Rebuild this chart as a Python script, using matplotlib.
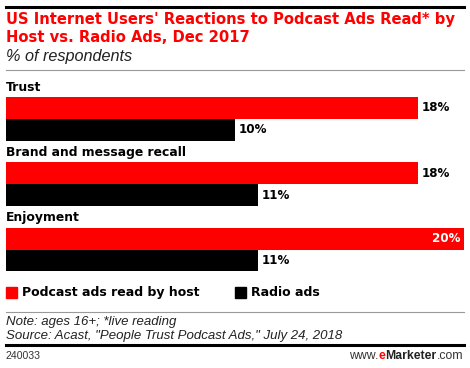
import matplotlib.pyplot as plt
from matplotlib.patches import Rectangle
from matplotlib.lines import Line2D

plt.rcParams['font.family'] = ['Liberation Sans', 'DejaVu Sans']
BOLD = ['DejaVu Sans']

categories = ['Trust', 'Brand and message recall', 'Enjoyment']
podcast = [18, 18, 20]
radio = [10, 11, 11]
series_names = ['Podcast ads read by host', 'Radio ads']
colors = ['#ff0000', '#000000']

W, H = 470, 368
fig = plt.figure(figsize=(W / 100, H / 100), dpi=100)


def fy(py):
    return 1 - py / H


def fx(px):
    return px / W


# header / footer rules
fig.add_artist(Line2D([fx(6), fx(464)], [fy(6.5), fy(6.5)], color='black', lw=2.2))
fig.add_artist(Line2D([fx(6), fx(464)], [fy(70), fy(70)], color='#999999', lw=0.8))
fig.add_artist(Line2D([fx(6), fx(464)], [fy(312), fy(312)], color='#999999', lw=0.8))
fig.add_artist(Line2D([fx(6), fx(464)], [fy(344.5), fy(344.5)], color='black', lw=2.2))

fig.text(fx(6), fy(19.5), "US Internet Users' Reactions to Podcast Ads Read* by",
         color='#ff0000', fontsize=10.6, fontweight='bold', family=BOLD, va='center')
fig.text(fx(6), fy(37.5), "Host vs. Radio Ads, Dec 2017",
         color='#ff0000', fontsize=10.6, fontweight='bold', family=BOLD, va='center')
fig.text(fx(6), fy(56), "% of respondents", fontsize=11.7, style='italic', va='center',
         color='#222222')

# bars
ax = fig.add_axes([fx(6), fy(272), fx(458), (272 - 80) / H])
ax.set_xlim(0, 20)
ax.set_ylim(8.53, -0.28)
ax.axis('off')

lab_kw = dict(fontsize=8.9, fontweight='bold', family=BOLD, va='center')
val_kw = dict(fontsize=8.6, fontweight='bold', family=BOLD, va='center')
for i, cat in enumerate(categories):
    base = 3 * i
    ax.text(0, base + 0.05, cat, ha='left', **lab_kw)
    ax.barh(base + 1, podcast[i], height=1.0, color=colors[0])
    ax.barh(base + 2, radio[i], height=1.0, color=colors[1])
    if podcast[i] >= max(podcast):
        ax.text(podcast[i] - 0.15, base + 1, f'{podcast[i]}%', color='white',
                ha='right', **val_kw)
    else:
        ax.text(podcast[i] + 0.15, base + 1, f'{podcast[i]}%', color='black',
                ha='left', **val_kw)
    ax.text(radio[i] + 0.15, base + 2, f'{radio[i]}%', color='black',
            ha='left', **val_kw)

# legend
leg_x = [6, 235]
for j, name in enumerate(series_names):
    fig.add_artist(Rectangle((fx(leg_x[j]), fy(298)), fx(11), 11 / H,
                             color=colors[j], transform=fig.transFigure))
    fig.text(fx(leg_x[j] + 16), fy(292.5), name, fontsize=9.0, fontweight='bold',
             family=BOLD, va='center')

fig.text(fx(6), fy(322), "Note: ages 16+; *live reading", fontsize=9.5,
         style='italic', va='center', color='#222222')
fig.text(fx(6), fy(336), 'Source: Acast, "People Trust Podcast Ads," July 24, 2018',
         fontsize=9.5, style='italic', va='center', color='#222222')
fig.text(fx(6), fy(356), "240033", fontsize=7.6, va='center', color='#333333')

# www.eMarketer.com, built right to left
renderer = fig.canvas.get_renderer()
pieces = [('.com', 'normal', '#333333'), ('Marketer', 'bold', '#222222'),
          ('e', 'bold', '#ff0000'), ('www.', 'normal', '#333333')]
xr = fx(463)
for txt, wt, col in pieces:
    t = fig.text(xr, fy(356), txt, fontsize=8.8, fontweight=wt, color=col,
                 va='center', ha='right')
    bb = t.get_window_extent(renderer)
    xr -= bb.width / W

fig.savefig('out.png', dpi=100)
